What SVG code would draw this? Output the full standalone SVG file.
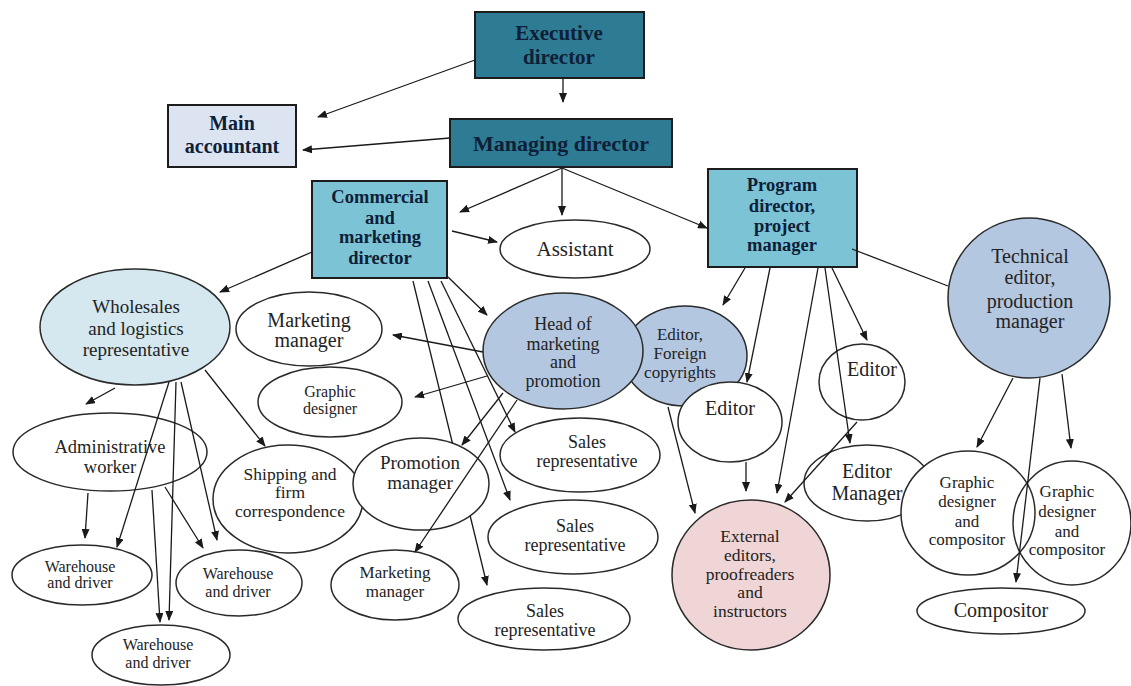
<svg xmlns="http://www.w3.org/2000/svg" width="1131" height="686" viewBox="0 0 1131 686">
<style>
.box{stroke:#1c1c1c;stroke-width:2}
.dark{fill:#2e7b94}
.mid{fill:#7cc3d6}
.pale{fill:#dde4f1}
.ell{fill:#ffffff;stroke:#2a2a2a;stroke-width:1.5}
.blue{fill:#b4c7e0}
.lblue{fill:#d5e8f0}
.pink{fill:#efd5d5}
.hollow{fill:none}
text{font-family:"Liberation Serif","Times New Roman",serif;text-anchor:middle;fill:#232323}
.b{font-weight:bold;fill:#0e2038}
.con line,.con path{stroke:#1a1a1a;stroke-width:1.3;fill:none;marker-end:url(#ah)}
.con .plain{marker-end:none}
</style>
<defs>
<marker id="ah" markerUnits="userSpaceOnUse" markerWidth="10" markerHeight="8" refX="9" refY="4" orient="auto">
<path d="M0,0 L10,4 L0,8 z" fill="#1a1a1a"/>
</marker>
</defs>
<rect width="1131" height="686" fill="#ffffff"/>

<g id="executive"><rect class="box dark" x="475" y="12" width="169" height="66"/>
<text class="b" x="559" y="40" font-size="21">Executive</text><text class="b" x="559" y="64" font-size="21">director</text></g>
<g id="main-accountant"><rect class="box pale" x="168" y="105" width="128" height="62"/>
<text class="b" x="232" y="130" font-size="20">Main</text><text class="b" x="232" y="153" font-size="20">accountant</text></g>
<g id="managing"><rect class="box dark" x="450" y="119" width="222" height="48"/>
<text class="b" x="561" y="151" font-size="22">Managing director</text></g>
<g id="commercial"><rect class="box mid" x="312" y="181" width="135" height="97"/>
<text class="b" x="380" y="203" font-size="18.5">Commercial</text><text class="b" x="380" y="224" font-size="18.5">and</text><text class="b" x="380" y="243" font-size="18.5">marketing</text><text class="b" x="380" y="264" font-size="18.5">director</text></g>
<g id="program"><rect class="box mid" x="708" y="169" width="149" height="98"/>
<text class="b" x="782" y="191" font-size="18.5">Program</text><text class="b" x="782" y="212" font-size="18.5">director,</text><text class="b" x="782" y="232" font-size="18.5">project</text><text class="b" x="782" y="251" font-size="18.5">manager</text></g>
<g id="assistant"><ellipse class="ell" cx="575" cy="249" rx="75" ry="29"/><text x="575" y="256" font-size="21">Assistant</text></g>
<g id="technical"><ellipse class="ell blue" cx="1029" cy="298" rx="81" ry="80"/>
<text x="1030" y="263" font-size="20">Technical</text><text x="1030" y="284" font-size="20">editor,</text><text x="1030" y="308" font-size="20">production</text><text x="1030" y="328" font-size="20">manager</text></g>
<g id="wholesales"><ellipse class="ell lblue" cx="135" cy="327" rx="95" ry="58"/>
<text x="136" y="313" font-size="19">Wholesales</text><text x="136" y="335" font-size="19">and logistics</text><text x="136" y="356" font-size="19">representative</text></g>
<g id="marketing-manager-1"><ellipse class="ell" cx="309" cy="329" rx="73" ry="37"/>
<text x="309" y="327" font-size="20">Marketing</text><text x="309" y="347" font-size="20">manager</text></g>
<g id="graphic-designer"><ellipse class="ell" cx="330" cy="402" rx="72" ry="35"/>
<text x="330" y="397" font-size="16">Graphic</text><text x="330" y="414" font-size="16">designer</text></g>
<g id="editor-foreign"><ellipse class="ell blue" cx="685" cy="356" rx="62" ry="50"/>
<text x="680" y="340" font-size="17">Editor,</text><text x="680" y="359" font-size="17">Foreign</text><text x="680" y="378" font-size="17">copyrights</text></g>
<g id="head-marketing"><ellipse class="ell blue" cx="563" cy="351" rx="80" ry="58"/>
<text x="563" y="330" font-size="18">Head of</text><text x="563" y="350" font-size="18">marketing</text><text x="563" y="368" font-size="18">and</text><text x="563" y="387" font-size="18">promotion</text></g>
<g id="editor-mid"><ellipse class="ell" cx="730" cy="422" rx="52" ry="40"/><text x="730" y="415" font-size="20">Editor</text></g>
<g id="editor-right"><ellipse class="ell" cx="862" cy="382" rx="43" ry="38"/><text x="872" y="376" font-size="20">Editor</text></g>
<g id="editor-manager"><ellipse class="ell" cx="867" cy="483" rx="63" ry="38"/>
<text x="867" y="478" font-size="20">Editor</text><text x="867" y="500" font-size="20">Manager</text></g>
<g id="graphic-compositor-1"><ellipse class="ell" cx="968" cy="513" rx="67" ry="62"/>
<text x="967" y="488" font-size="17">Graphic</text><text x="967" y="507" font-size="17">designer</text><text x="967" y="527" font-size="17">and</text><text x="967" y="545" font-size="17">compositor</text></g>
<g id="graphic-compositor-2"><ellipse class="ell hollow" cx="1072" cy="523" rx="59" ry="62"/>
<text x="1067" y="497" font-size="17">Graphic</text><text x="1067" y="517" font-size="17">designer</text><text x="1067" y="537" font-size="17">and</text><text x="1067" y="555" font-size="17">compositor</text></g>
<g id="compositor"><ellipse class="ell" cx="1001" cy="611" rx="84" ry="23"/><text x="1001" y="617" font-size="20">Compositor</text></g>
<g id="external"><ellipse class="ell pink" cx="751" cy="575" rx="79" ry="75"/>
<text x="750" y="542" font-size="17.5">External</text><text x="750" y="561" font-size="17.5">editors,</text><text x="750" y="580" font-size="17.5">proofreaders</text><text x="750" y="598" font-size="17.5">and</text><text x="750" y="617" font-size="17.5">instructors</text></g>
<g id="sales-1"><ellipse class="ell" cx="580" cy="455" rx="80" ry="37"/>
<text x="587" y="448" font-size="18">Sales</text><text x="587" y="467" font-size="18">representative</text></g>
<g id="sales-2"><ellipse class="ell" cx="573" cy="537" rx="85" ry="37"/>
<text x="575" y="532" font-size="18">Sales</text><text x="575" y="551" font-size="18">representative</text></g>
<g id="sales-3"><ellipse class="ell" cx="544" cy="619" rx="86" ry="31"/>
<text x="545" y="617" font-size="18">Sales</text><text x="545" y="636" font-size="18">representative</text></g>
<g id="shipping"><ellipse class="ell" cx="288" cy="499" rx="75" ry="54"/>
<text x="290" y="480" font-size="17.5">Shipping and</text><text x="290" y="498" font-size="17.5">firm</text><text x="290" y="517" font-size="17.5">correspondence</text></g>
<g id="promotion-manager"><ellipse class="ell" cx="421" cy="484" rx="68" ry="46"/>
<text x="420" y="469" font-size="19">Promotion</text><text x="420" y="489" font-size="19">manager</text></g>
<g id="marketing-manager-2"><ellipse class="ell" cx="395" cy="585" rx="64" ry="35"/>
<text x="395" y="578" font-size="17">Marketing</text><text x="395" y="597" font-size="17">manager</text></g>
<g id="administrative"><ellipse class="ell" cx="110" cy="452" rx="97" ry="39"/>
<text x="110" y="453" font-size="18.5">Administrative</text><text x="110" y="473" font-size="18.5">worker</text></g>
<g id="warehouse-1"><ellipse class="ell" cx="82" cy="575" rx="70" ry="30"/>
<text x="80" y="572" font-size="16">Warehouse</text><text x="80" y="588" font-size="16">and driver</text></g>
<g id="warehouse-2"><ellipse class="ell" cx="239" cy="583" rx="63" ry="33"/>
<text x="238" y="579" font-size="16">Warehouse</text><text x="238" y="597" font-size="16">and driver</text></g>
<g id="warehouse-3"><ellipse class="ell" cx="161" cy="655" rx="69" ry="30"/>
<text x="158" y="650" font-size="16">Warehouse</text><text x="158" y="668" font-size="16">and driver</text></g>

<g id="connectors" class="con">
<line x1="475" y1="60" x2="318" y2="117"/>
<line x1="563" y1="78" x2="563" y2="102"/>
<line x1="450" y1="138" x2="303" y2="150"/>
<line x1="562" y1="168" x2="460" y2="212"/>
<line x1="562" y1="168" x2="562" y2="215"/>
<line x1="562" y1="168" x2="707" y2="228"/>
<line x1="452" y1="231" x2="497" y2="242"/>
<line x1="312" y1="252" x2="220" y2="292"/>
<line class="plain" x1="852" y1="249" x2="948" y2="286"/>
<line x1="448" y1="277" x2="487" y2="315"/>
<line x1="441" y1="281" x2="515" y2="432"/>
<line x1="428" y1="281" x2="510" y2="500"/>
<path d="M413,281 L452.4,443 M470.2,516 L487,585"/>
<line x1="483" y1="352" x2="393" y2="335"/>
<line x1="487" y1="376" x2="415" y2="397"/>
<line x1="503" y1="393" x2="462" y2="445"/>
<line x1="517" y1="400" x2="415" y2="552"/>
<line x1="745" y1="268" x2="723" y2="305"/>
<line x1="770" y1="268" x2="747" y2="382"/>
<line x1="818" y1="268" x2="777" y2="493"/>
<line x1="825" y1="268" x2="850" y2="443"/>
<line x1="832" y1="268" x2="867" y2="340"/>
<line x1="668" y1="407" x2="695" y2="513"/>
<line x1="746" y1="462" x2="746" y2="491"/>
<line x1="857" y1="422" x2="785" y2="502"/>
<line x1="1013" y1="378" x2="977" y2="447"/>
<line x1="1040" y1="378" x2="1016" y2="582"/>
<line x1="1062" y1="374" x2="1071" y2="448"/>
<line x1="115" y1="388" x2="86" y2="404"/>
<line x1="205" y1="370" x2="265" y2="446"/>
<line x1="169" y1="382" x2="117" y2="547"/>
<line x1="176" y1="382" x2="169" y2="620"/>
<line x1="181" y1="382" x2="217" y2="540"/>
<line x1="88" y1="493" x2="85" y2="538"/>
<line x1="152" y1="490" x2="160" y2="622"/>
<line x1="165" y1="487" x2="203" y2="548"/>
</g>
</svg>
